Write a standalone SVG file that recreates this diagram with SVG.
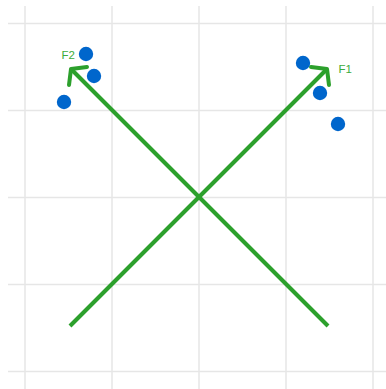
<svg xmlns="http://www.w3.org/2000/svg" width="386" height="389" viewBox="0 0 386 389">
<style>
.grid{stroke:#e6e6e6;stroke-width:1.5;fill:none}
.vec{stroke:#2ca02c;stroke-width:4;fill:none;stroke-linecap:butt}
.head{stroke:#2ca02c;stroke-width:4;fill:none;stroke-linecap:round;stroke-linejoin:round}
.pt{fill:#0066cc}
.lbl{font-family:"Liberation Sans",Arial,sans-serif;font-size:11.5px;fill:#3cab3c}
</style>
<rect width="386" height="389" fill="#ffffff"/>
<g id="grid">
<line class="grid" x1="25" y1="6" x2="25" y2="389"/>
<line class="grid" x1="112" y1="6" x2="112" y2="389"/>
<line class="grid" x1="199" y1="6" x2="199" y2="389"/>
<line class="grid" x1="286" y1="6" x2="286" y2="389"/>
<line class="grid" x1="373" y1="6" x2="373" y2="389"/>
<line class="grid" x1="8" y1="23.5" x2="386" y2="23.5"/>
<line class="grid" x1="8" y1="110.5" x2="386" y2="110.5"/>
<line class="grid" x1="8" y1="197.5" x2="386" y2="197.5"/>
<line class="grid" x1="8" y1="284.5" x2="386" y2="284.5"/>
<line class="grid" x1="8" y1="371.5" x2="386" y2="371.5"/>
</g>
<g id="connectors">
<line class="vec" x1="70" y1="326" x2="327" y2="69"/>
<polyline class="head" points="311,67 327,69 329,85"/>
<line class="vec" x1="328" y1="326" x2="71" y2="69"/>
<polyline class="head" points="87,67 71,69 69,85"/>
</g>
<g id="F1"><text class="lbl" x="338.5" y="72.5">F1</text></g>
<g id="F2"><text class="lbl" x="61.5" y="58.5">F2</text></g>
<g id="points">
<circle class="pt" cx="86" cy="54" r="7.2"/>
<circle class="pt" cx="94" cy="76" r="7.2"/>
<circle class="pt" cx="64" cy="102" r="7.2"/>
<circle class="pt" cx="303" cy="63" r="7.2"/>
<circle class="pt" cx="320" cy="93" r="7.2"/>
<circle class="pt" cx="338" cy="124" r="7.2"/>
</g>
</svg>
